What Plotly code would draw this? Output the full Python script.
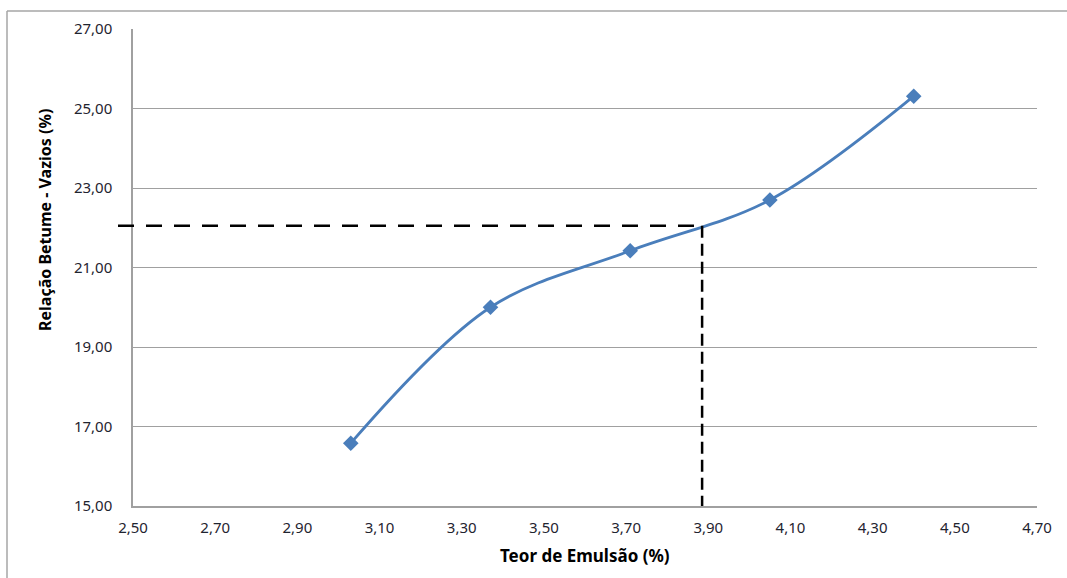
import plotly.graph_objects as go

# Data
teor = [3.03, 3.37, 3.71, 4.05, 4.40]
relacao = [16.58, 20.00, 21.42, 22.70, 25.31]
x_ticks = [2.50, 2.70, 2.90, 3.10, 3.30, 3.50, 3.70, 3.90, 4.10, 4.30, 4.50, 4.70]
y_ticks = [15, 17, 19, 21, 23, 25, 27]
ref_x = 3.885
ref_y = 22.05

W, H = 1067, 578
L, R, T, B = 133, 30, 29, 72
pw, ph = W - L - R, H - T - B

def fmt(v):
    return f"{v:.2f}".replace(".", ",")

fig = go.Figure()
fig.add_trace(go.Scatter(
    x=teor, y=relacao, mode="lines+markers",
    line=dict(color="#4a7ebb", width=2.8, shape="spline", smoothing=1.0),
    marker=dict(symbol="diamond", size=12, color="#4a7ebb"),
    showlegend=False, cliponaxis=False,
))

# Dashed reference lines
fig.add_shape(type="line", xref="paper", yref="y",
              x0=(118 - L) / pw, x1=(ref_x - 2.5) / 2.2, y0=ref_y, y1=ref_y,
              line=dict(color="black", width=2.5, dash="16px,12px"))
fig.add_shape(type="line", xref="x", yref="y",
              x0=ref_x, x1=ref_x, y0=ref_y, y1=15,
              line=dict(color="black", width=2.5, dash="12px,6px"))

# Outer chart border (left and top visible)
bx = (7 - L) / pw
by = (H - B - 11) / ph
fig.add_shape(type="line", xref="paper", yref="paper", x0=bx, x1=1.2, y0=by, y1=by,
              line=dict(color="#a6a6a6", width=1.5))
fig.add_shape(type="line", xref="paper", yref="paper", x0=bx, x1=bx, y0=by, y1=-0.3,
              line=dict(color="#a6a6a6", width=1.5))

tick_font = dict(family="Noto Sans", size=15, color="#1f2430")

fig.update_xaxes(range=[2.5, 4.7], tickvals=x_ticks, ticktext=[fmt(v) for v in x_ticks],
                 showgrid=False, zeroline=False, showline=True, linecolor="#a0a0a0", linewidth=1.5,
                 ticks="", tickfont=tick_font, ticklabelstandoff=7)
fig.update_yaxes(range=[15, 27], tickvals=y_ticks, ticktext=[fmt(v) for v in y_ticks],
                 showgrid=True, gridcolor="#a0a0a0", gridwidth=1.2, zeroline=False,
                 showline=True, linecolor="#a0a0a0", linewidth=1.5,
                 ticks="", tickfont=tick_font, ticklabelstandoff=16)

fig.add_annotation(text="<b>Relação Betume - Vazios (%)</b>", xref="paper", yref="paper",
                   x=(45 - L) / pw, y=(H - B - 220) / ph, textangle=-90, showarrow=False,
                   font=dict(family="Noto Sans", size=16, color="black"),
                   xanchor="center", yanchor="middle")
fig.add_annotation(text="<b>Teor de Emulsão (%)</b>", xref="paper", yref="paper",
                   x=(585 - L) / pw, y=(H - B - 555) / ph, showarrow=False,
                   font=dict(family="Noto Sans", size=17, color="black"),
                   xanchor="center", yanchor="middle")

fig.update_layout(width=W, height=H, margin=dict(l=L, r=R, t=T, b=B),
                  plot_bgcolor="white", paper_bgcolor="white")

fig.write_html("out.html")
